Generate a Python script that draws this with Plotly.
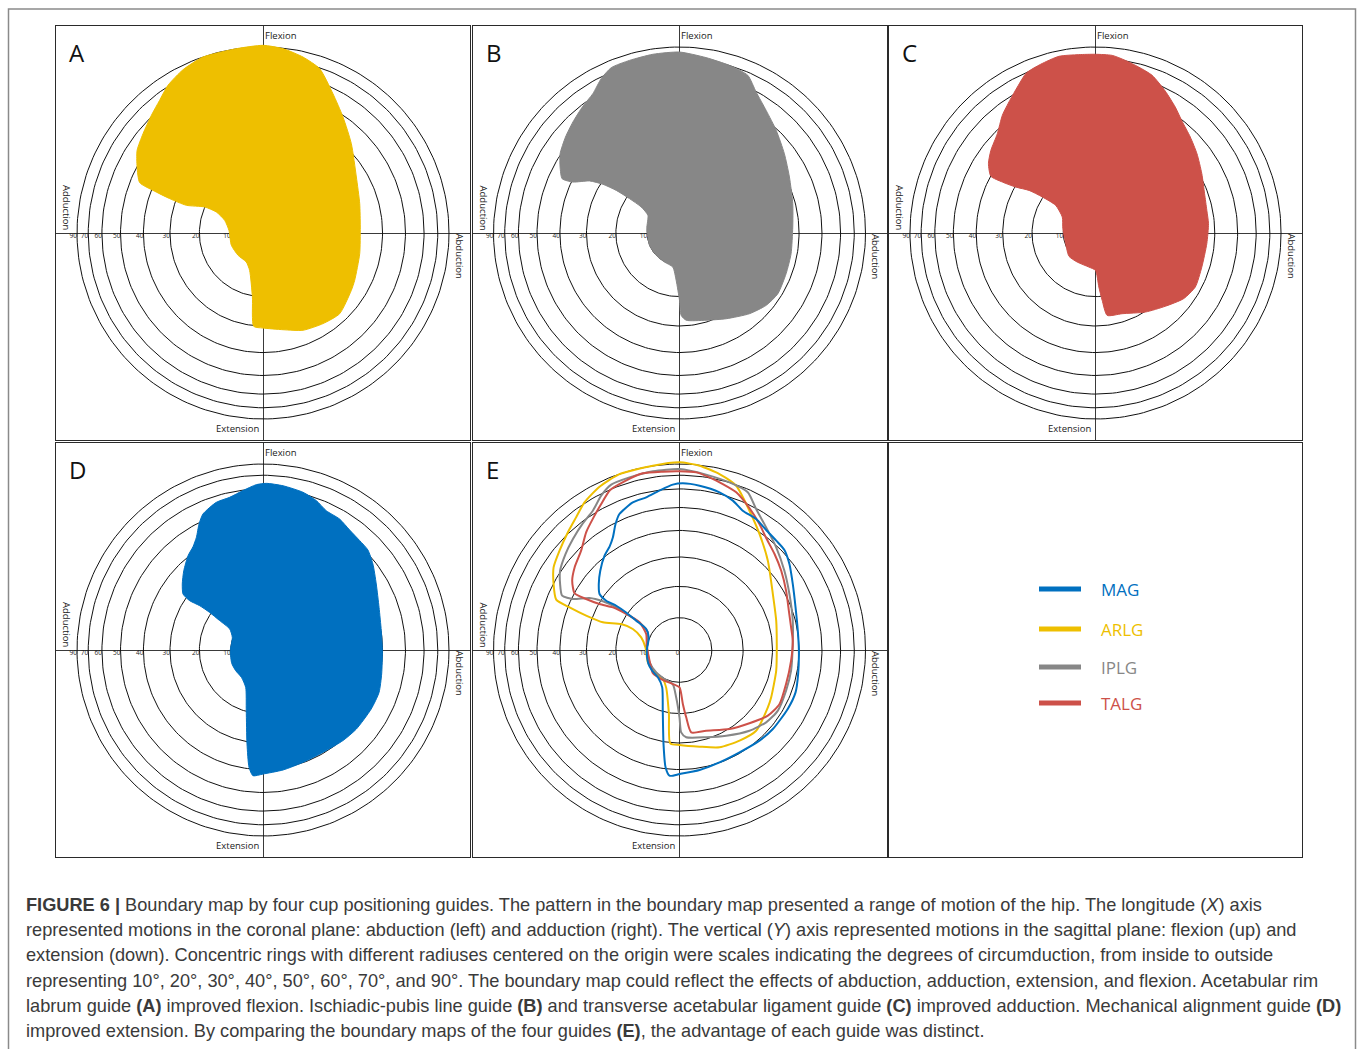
import numpy as np
import plotly.graph_objects as go

W, H = 1358, 1049

# ---------------- scale / tick data ----------------
RING_DEGREES = [10, 20, 30, 40, 50, 60, 70, 90]
TICK_DEGREES = [0, 10, 20, 30, 40, 50, 60, 70, 90]
TICK_LABELS = ["0", "10", "20", "30", "40", "50", "60", "70", "90"]

GUIDES = ["MAG", "ARLG", "IPLG", "TALG"]
GUIDE_COLORS = {"MAG": "#0070C0", "ARLG": "#EEBF00", "IPLG": "#878787", "TALG": "#CD5149"}
PANEL_LETTERS = ["A", "B", "C", "D", "E"]
PANEL_GUIDE = {"A": "ARLG", "B": "IPLG", "C": "TALG", "D": "MAG"}

# ---------------- boundary data ----------------
# projected circumduction, % of the 90 deg ring radius; x>0 toward Abduction label, y>0 Flexion
ARLG_X = [0, 10.8, 21.5, 30.5, 37.6, 43.0, 47.5, 50.2, 52.0, 52.3, 52.0, 49.3, 47.5, 41.2, 32.3, 21.5,
          10.8, 0, -5.0, -5.7, -7.2, -9.0, -13.4, -17.0, -18.3, -20.6, -25.1, -31.4, -41.2, -50.2,
          -59.1, -66.3, -67.7, -67.7, -64.5, -60.0, -55.6, -51.1, -43.0, -32.3, -14.3]
ARLG_Y = [100.9, 99.1, 94.6, 88.3, 74.9, 62.4, 48.0, 30.1, 15.8, 3.2, -11.1, -25.4, -30.8, -43.4,
          -48.7, -52.3, -52.0, -51.1, -50.2, -34.4, -20.1, -15.6, -12.0, -6.6, 1.4, 6.8, 11.3, 14.0,
          14.9, 18.5, 22.9, 27.1, 35.5, 44.4, 53.4, 63.3, 71.3, 79.4, 87.8, 94.6, 99.1]

IPLG_X = [0, 14.3, 26.9, 36.7, 41.2, 46.6, 52.0, 56.4, 59.1, 60.9, 60.9, 60.0, 57.3, 52.9, 46.6, 37.6,
          25.1, 14.3, 3.6, 0.9, 0, -1.8, -3.6, -8.1, -12.5, -16.1, -17.6, -17.0, -20.6, -26.9, -34.0,
          -41.2, -48.4, -57.3, -63.1, -64.2, -64.2, -61.3, -57.3, -52.0, -46.6, -42.1, -36.7, -26.9,
          -14.3]
IPLG_Y = [97.3, 94.3, 90.1, 84.8, 75.8, 65.9, 55.2, 42.6, 30.1, 15.8, 3.2, -11.1, -21.9, -32.6, -38.9,
          -43.4, -46.1, -46.9, -46.9, -44.3, -36.2, -25.4, -18.3, -15.6, -12.0, -6.6, 2.3, 9.5, 14.0,
          18.5, 22.9, 26.2, 28.0, 27.4, 29.2, 35.5, 42.6, 51.6, 59.7, 68.1, 74.9, 83.0, 88.9, 92.8,
          96.1]

TALG_X = [0, 9.0, 16.1, 23.3, 30.5, 37.6, 43.0, 46.6, 51.1, 54.7, 57.3, 58.8, 60.0, 60.9, 60.0, 57.3,
          53.8, 47.5, 37.6, 26.9, 14.3, 6.3, 3.6, 1.8, 0, -3.6, -9.9, -14.3, -16.1, -17.6, -17.9, -21.5,
          -28.7, -35.8, -43.0, -50.2, -56.4, -57.7, -56.4, -52.9, -50.2, -46.2, -42.1, -37.3, -29.6,
          -19.7, -9.0]
TALG_Y = [96.1, 95.5, 92.8, 89.2, 84.8, 76.3, 67.7, 60.2, 51.6, 42.6, 31.9, 21.1, 12.2, 5.0, -5.7,
          -18.3, -29.0, -35.3, -39.4, -42.5, -43.4, -44.3, -36.2, -29.0, -20.1, -18.3, -15.6, -12.5,
          -5.7, 2.3, 8.6, 14.9, 19.4, 22.9, 24.7, 27.4, 30.5, 37.3, 44.4, 53.4, 63.3, 71.3, 78.5, 86.0,
          90.7, 95.0, 95.9]

MAG_X = [1.8, 10.8, 21.5, 28.7, 34.0, 41.2, 46.6, 52.0, 56.4, 59.1, 60.9, 62.4, 63.6, 64.2, 63.8, 62.4,
         58.2, 50.2, 43.0, 32.3, 21.5, 10.8, 0, -5.4, -7.5, -8.6, -9.0, -9.3, -11.6, -14.7, -16.8, -17.6,
         -16.5, -17.9, -23.3, -28.7, -34.0, -39.4, -43.0, -43.4, -42.6, -40.3, -37.6, -35.8, -34.4,
         -32.3, -25.1, -17.9, -10.8, -3.6]
MAG_Y = [89.6, 88.3, 84.8, 80.3, 74.9, 70.4, 64.5, 58.8, 53.8, 46.2, 35.5, 22.9, 10.4, -0.4, -12.9,
         -22.8, -31.7, -42.5, -48.7, -55.0, -60.4, -64.5, -66.7, -67.6, -63.1, -50.5, -32.6, -20.1,
         -14.7, -11.1, -7.2, -0.4, 6.8, 11.3, 15.8, 20.2, 23.8, 26.5, 30.1, 35.5, 42.6, 50.7, 55.6,
         60.6, 67.7, 73.1, 79.4, 82.1, 85.7, 88.9]

BOUNDARIES = {"MAG": (MAG_X, MAG_Y), "ARLG": (ARLG_X, ARLG_Y),
              "IPLG": (IPLG_X, IPLG_Y), "TALG": (TALG_X, TALG_Y)}

CAPTION_LINES = [
    "<b>FIGURE 6 |</b> Boundary map by four cup positioning guides. The pattern in the boundary map presented a range of motion of the hip. The longitude (<i>X</i>) axis",
    "represented motions in the coronal plane: abduction (left) and adduction (right). The vertical (<i>Y</i>) axis represented motions in the sagittal plane: flexion (up) and",
    "extension (down). Concentric rings with different radiuses centered on the origin were scales indicating the degrees of circumduction, from inside to outside",
    "representing 10°, 20°, 30°, 40°, 50°, 60°, 70°, and 90°. The boundary map could reflect the effects of abduction, adduction, extension, and flexion. Acetabular rim",
    "labrum guide <b>(A)</b> improved flexion. Ischiadic-pubis line guide <b>(B)</b> and transverse acetabular ligament guide <b>(C)</b> improved adduction. Mechanical alignment guide <b>(D)</b>",
    "improved extension. By comparing the boundary maps of the four guides <b>(E)</b>, the advantage of each guide was distinct.",
]

# ---------------- layout geometry (pixels) ----------------
COLS = [(56, 470), (472.5, 886.5), (889, 1302)]
ROWS = [(26, 440), (443, 857)]
HALF = 111.3  # axis half-range in % of 90 deg ring
LBL_FONT = "Open Sans"


def px_x(v):
    return v / W


def px_y(v):
    return 1 - v / H


def closed(a):
    return list(a) + [a[0]]


fig = go.Figure()
layout_axes = {}
annotations = []
shapes = []

theta = np.linspace(0, 2 * np.pi, 241)
ring_r = [100 * np.sin(np.radians(d)) for d in RING_DEGREES]

panel_idx = 0
for ri, (y0, y1) in enumerate(ROWS):
    for ci, (x0, x1) in enumerate(COLS):
        panel_idx += 1
        k = "" if panel_idx == 1 else str(panel_idx)
        xa, ya = "x" + k, "y" + k
        is_map = panel_idx <= 5
        common = dict(range=[-HALF, HALF], showgrid=False, showticklabels=False, ticks="",
                      zeroline=is_map, zerolinecolor="#3a3a3a", zerolinewidth=1,
                      showline=True, mirror=True, linecolor="#2a2a2a", linewidth=1.3,
                      fixedrange=True)
        layout_axes["xaxis" + k] = dict(domain=[px_x(x0), px_x(x1)], anchor=ya, **common)
        layout_axes["yaxis" + k] = dict(domain=[px_y(y1), px_y(y0)], anchor=xa, **common)
        if not is_map:
            # empty legend panel: invisible trace so the framed subplot is rendered
            fig.add_trace(go.Scatter(x=[None], y=[None], xaxis=xa, yaxis=ya, mode="markers",
                                     hoverinfo="skip", showlegend=False))
            continue
        letter = PANEL_LETTERS[panel_idx - 1]
        # rings
        rx, ry = [], []
        for r in ring_r:
            rx += list(r * np.cos(theta)) + [None]
            ry += list(r * np.sin(theta)) + [None]
        fig.add_trace(go.Scatter(x=rx, y=ry, mode="lines", xaxis=xa, yaxis=ya,
                                 line=dict(color="#111111", width=1), hoverinfo="skip",
                                 showlegend=False))
        # tick labels along the left horizontal axis
        fig.add_trace(go.Scatter(x=[-100 * np.sin(np.radians(d)) for d in TICK_DEGREES],
                                 y=[0] * len(TICK_DEGREES), mode="text", text=TICK_LABELS,
                                 textposition="bottom left", xaxis=xa, yaxis=ya,
                                 textfont=dict(family=LBL_FONT, size=6.5, color="#222222"),
                                 hoverinfo="skip", showlegend=False))
        if letter in PANEL_GUIDE:
            g = PANEL_GUIDE[letter]
            bx, by = BOUNDARIES[g]
            fig.add_trace(go.Scatter(x=closed(bx), y=closed(by), mode="lines", fill="toself",
                                     fillcolor=GUIDE_COLORS[g], xaxis=xa, yaxis=ya,
                                     line=dict(color=GUIDE_COLORS[g], width=1, shape="spline",
                                               smoothing=0.6),
                                     name=g, showlegend=False))
        else:
            for g in ["ARLG", "IPLG", "TALG", "MAG"]:
                bx, by = BOUNDARIES[g]
                fig.add_trace(go.Scatter(x=closed(bx), y=closed(by), mode="lines",
                                         xaxis=xa, yaxis=ya,
                                         line=dict(color=GUIDE_COLORS[g], width=2,
                                                   shape="spline", smoothing=0.6),
                                         name=g, showlegend=False))
        # direction labels
        lf = dict(family=LBL_FONT, size=9.5, color="#222222")
        annotations += [
            dict(x=-0.2, y=HALF - 9 / 1.86, xref=xa, yref=ya, text="Flexion", showarrow=False,
                 xanchor="left", yanchor="middle", font=lf),
            dict(x=-1.2, y=-HALF + 12 / 1.86, xref=xa, yref=ya, text="Extension", showarrow=False,
                 xanchor="right", yanchor="middle", font=lf),
            dict(x=-HALF + 11 / 1.86, y=25 / 1.86, xref=xa, yref=ya, text="Adduction",
                 showarrow=False, textangle=90, xanchor="center", yanchor="middle", font=lf),
            dict(x=HALF - 11 / 1.86, y=-23.5 / 1.86, xref=xa, yref=ya, text="Abduction",
                 showarrow=False, textangle=90, xanchor="center", yanchor="middle", font=lf),
            dict(x=-HALF + 11 / 1.86, y=HALF - 26 / 1.86, xref=xa, yref=ya, text=letter,
                 showarrow=False, xanchor="left", yanchor="middle",
                 font=dict(family=LBL_FONT, size=24, color="#111111")),
        ]

# legend in panel F
LEGEND_Y = {"MAG": 589, "ARLG": 629, "IPLG": 667, "TALG": 703}
for g in GUIDES:
    yy = LEGEND_Y[g]
    shapes.append(dict(type="line", xref="paper", yref="paper", x0=px_x(1039), x1=px_x(1081),
                       y0=px_y(yy), y1=px_y(yy), line=dict(color=GUIDE_COLORS[g], width=5)))
    annotations.append(dict(x=px_x(1099), y=px_y(yy), xref="paper", yref="paper", text=g,
                            showarrow=False, xanchor="left", yanchor="middle",
                            font=dict(family=LBL_FONT, size=17, color=GUIDE_COLORS[g])))

# caption
CAP_Y0, CAP_DY = 905, 25.2
for i, line in enumerate(CAPTION_LINES):
    annotations.append(dict(x=px_x(24), y=px_y(CAP_Y0 + i * CAP_DY), xref="paper", yref="paper",
                            text=line, showarrow=False, xanchor="left", yanchor="middle",
                            font=dict(family="Liberation Sans", size=18.2, color="#3a3a3a")))

# outer frame
shapes.append(dict(type="rect", xref="paper", yref="paper", x0=px_x(8.5), x1=px_x(1355.5),
                   y0=-0.05, y1=px_y(9), line=dict(color="#8a8a8a", width=1.5)))

fig.update_layout(width=W, height=H, margin=dict(l=0, r=0, t=0, b=0),
                  paper_bgcolor="white", plot_bgcolor="white", showlegend=False,
                  annotations=annotations, shapes=shapes, **layout_axes)

fig.write_html("out.html", config={"displayModeBar": False},
               post_script="document.body.style.margin='0px';document.body.style.overflow='hidden';")
